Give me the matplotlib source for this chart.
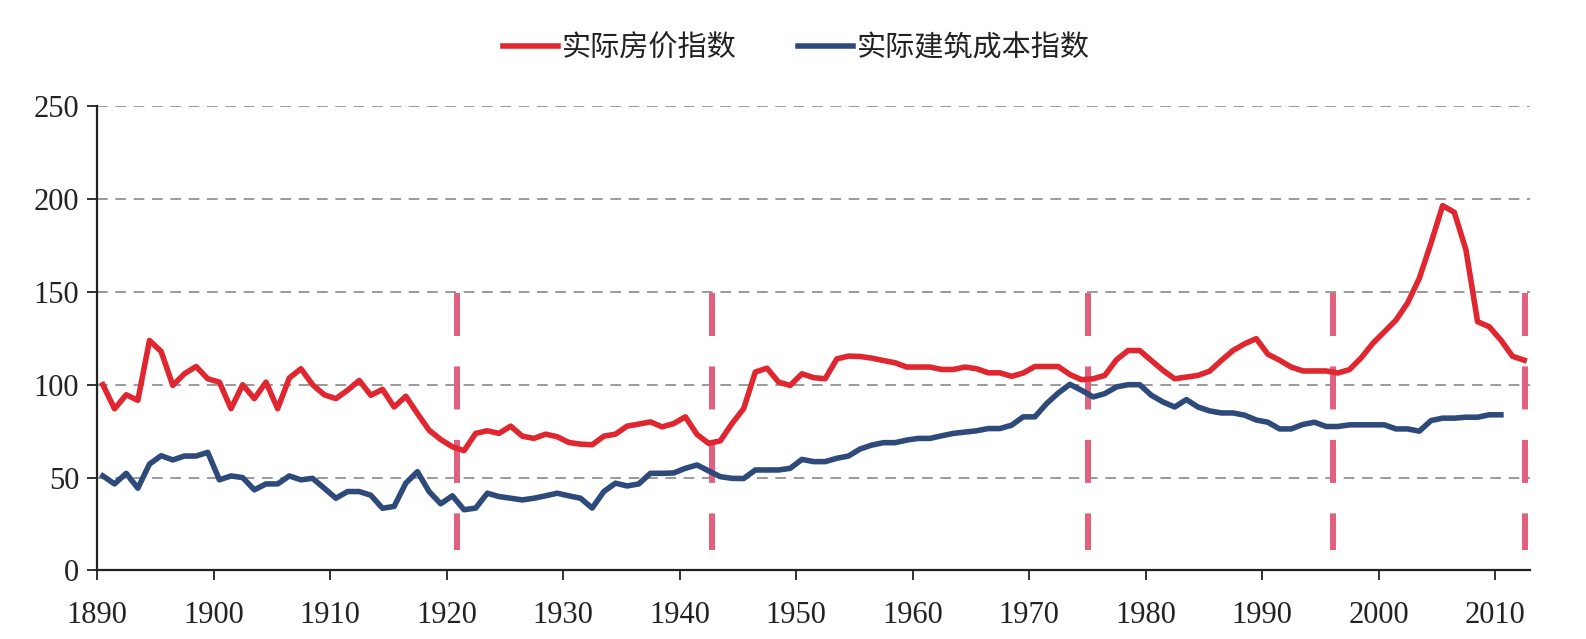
import numpy as np
import matplotlib
matplotlib.use("Agg")
import matplotlib.pyplot as plt

# ---- data ----
years_price = list(range(1890, 2013))
real_home_price = [
    100, 87, 94.6, 91.6, 123.8, 117.9, 99.6, 105.9, 109.8, 103.2,
    101.4, 87.1, 100, 92.5, 101.4, 87.1, 103.6, 108.6, 100, 94.6,
    92.5, 97, 102.3, 94.3, 97.5, 88, 93.8, 84.5, 75.5, 70.5,
    66.6, 64.5, 73.8, 75.2, 73.8, 77.7, 72.3, 71.1, 73.4, 72,
    68.9, 68, 67.7, 72.3, 73.4, 77.7, 78.8, 80, 77.3, 79.1,
    82.7, 73.2, 68.4, 69.8, 79.1, 87.1, 106.8, 108.9, 101.4, 99.6,
    105.9, 103.8, 103.2, 113.9, 115.4, 115.2, 114.3, 113, 111.8, 109.5,
    109.5, 109.5, 108.2, 108.2, 109.5, 108.6, 106.4, 106.4, 104.5, 106.3,
    109.8, 109.8, 109.8, 105.5, 102.7, 103.2, 105, 113.4, 118.4, 118.4,
    113, 107.7, 103.2, 104.1, 105, 107.3, 113, 118.4, 122, 124.8,
    116.4, 113.2, 109.5, 107.4, 107.4, 107.4, 106.3, 108.1, 114.4, 122.2,
    128.5, 134.8, 144.1, 157.3, 176.2, 196.4, 192.8, 172.6, 133.9, 131.2,
    124, 115.3, 113.2,
]
years_cost = list(range(1890, 2011))
real_building_cost = [
    50.9, 46.6, 52.3, 44.3, 57.3, 61.8, 59.5, 61.6, 61.6, 63.6,
    48.8, 50.9, 50, 43.4, 46.6, 46.6, 50.9, 48.8, 49.6, 44.3,
    38.9, 42.5, 42.5, 40.5, 33.5, 34.5, 47, 53.2, 42.5, 35.9,
    40.2, 32.7, 33.6, 41.6, 39.8, 38.9, 38, 38.9, 40.2, 41.6,
    40.2, 38.9, 33.6, 42.5, 47, 45.5, 46.6, 52.3, 52.3, 52.5,
    55, 56.8, 53.6, 50.5, 49.6, 49.5, 54.1, 54.1, 54.1, 55,
    59.8, 58.6, 58.6, 60.4, 61.6, 65.4, 67.5, 68.8, 68.8, 70.2,
    71.1, 71.1, 72.5, 73.8, 74.5, 75.2, 76.4, 76.4, 78.2, 82.7,
    82.7, 89.8, 95.5, 100.2, 97, 93.4, 95.2, 98.8, 100, 100,
    94.3, 90.7, 88, 92, 88, 85.9, 84.8, 84.8, 83.6, 81,
    79.8, 76.2, 76.2, 78.6, 79.8, 77.5, 77.5, 78.4, 78.4, 78.4,
    78.4, 76.2, 76.2, 75, 80.7, 82, 82, 82.5, 82.5, 83.8,
    83.8,
]
marker_years = [1920.9, 1942.8, 1975.1, 1996.1, 2012.6]
x_ticks = list(range(1890, 2011, 10))
y_ticks = [0, 50, 100, 150, 200, 250]
series_names = ["实际房价指数", "实际建筑成本指数"]

# ---- style ----
RED = "#E0262F"
BLUE = "#2E4A7B"
PINK = "#E0607E"

fig = plt.figure(figsize=(15.86, 6.39), dpi=100)
ax = fig.add_axes([0.0612, 0.1072, 0.9647 - 0.0612, 0.8341 - 0.1072])

# grid
for v in y_ticks[1:]:
    ax.axhline(v, color="#7F7F7F", lw=1.1, ls=(0, (7, 5)), zorder=1)

# vertical markers
for xm in marker_years:
    ax.plot([xm, xm], [149.5, 11], color=PINK, lw=4.3, ls=(0, (7.2, 5.1)),
            solid_capstyle="butt", dash_capstyle="butt", zorder=2)

xp = np.array(years_price) + 0.5
xc = np.array(years_cost) + 0.5
l1, = ax.plot(xp, real_home_price, color=RED, lw=4.0, zorder=4,
              solid_joinstyle="round", label=series_names[0])
l2, = ax.plot(xc, real_building_cost, color=BLUE, lw=4.0, zorder=3,
              solid_joinstyle="round", label=series_names[1])

ax.set_xlim(1890, 2013)
ax.set_ylim(0, 250)
ax.set_xticks(x_ticks)
ax.set_yticks(y_ticks)

for s in ["top", "right"]:
    ax.spines[s].set_visible(False)
for s in ["left", "bottom"]:
    ax.spines[s].set_linewidth(1.6)
    ax.spines[s].set_color("#222222")

ax.tick_params(axis="both", direction="out", length=7, width=1.3, color="#222222",
               labelsize=22, labelcolor="#222222")
ax.tick_params(axis="x", pad=15)
ax.tick_params(axis="y", pad=6)
for lab in ax.get_xticklabels() + ax.get_yticklabels():
    lab.set_fontfamily("Liberation Serif")

leg = fig.legend(handles=[l1, l2], labels=series_names, loc="center",
                 bbox_to_anchor=(0.502, 0.924), ncol=2, frameon=False,
                 prop={"family": ["Noto Sans CJK SC", "DejaVu Sans"], "size": 21},
                 handlelength=1.9, handletextpad=0.12, columnspacing=2.1)
for t in leg.get_texts():
    t.set_color("#222222")

fig.savefig("out.png", dpi=100)
